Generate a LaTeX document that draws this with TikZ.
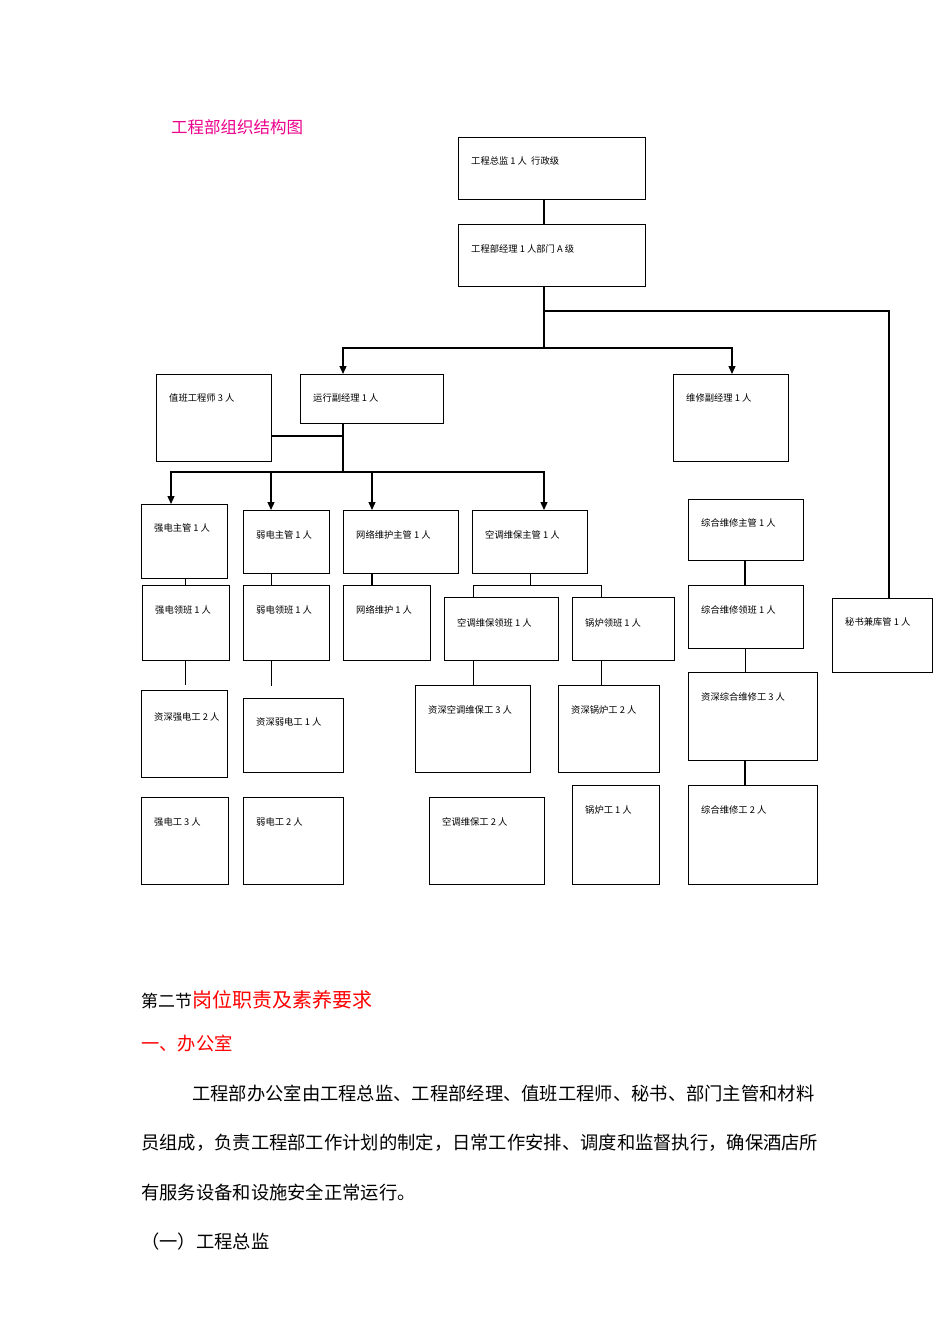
\documentclass[tikz,border=0pt]{standalone}
\usepackage{fontspec}
\setmainfont{Noto Sans CJK SC}
\usetikzlibrary{arrows.meta}
\tikzset{bx/.style={draw,line width=1.1pt,anchor=north west,inner sep=0pt},
 bt/.style={anchor=west,inner sep=0pt,font=\fontsize{9.3}{10}\selectfont},
 ln/.style={line width=1.3pt},
 ar/.style={ln,-{Triangle[length=8pt,width=7pt]}},
 body/.style={anchor=west,inner sep=0pt,font=\fontsize{18.3}{18}\selectfont}}
\newcommand\bx[8]{\node[bx,minimum width={(#4-#2)*1pt},minimum height={(#5-#3)*1pt}] (#1) at (#2,#3) {};
 \node[bt] (#1t) at (#2+13,#7) {#8};}
\begin{document}
\begin{tikzpicture}[x=1pt,y=-1pt]
\useasboundingbox[fill=white] (0,0) rectangle (950,1344);
\node[anchor=west,inner sep=0pt,text=magenta,font=\fontsize{16.5}{16}\selectfont] (title) at (171,127) {工程部组织结构图};
\bx{A}{458}{137}{645}{199}{}{161}{工程总监 1 人 \ 行政级}
\bx{B}{458}{224}{645}{286}{}{249}{工程部经理 1 人部门 A 级}
\bx{C}{156}{374}{271}{461}{}{398}{值班工程师 3 人}
\bx{D}{300}{374}{443}{423}{}{398}{运行副经理 1 人}
\bx{E}{673}{374}{788}{461}{}{398}{维修副经理 1 人}
\bx{F1}{141}{504}{227}{578}{}{528}{强电主管 1 人}
\bx{F2}{243}{510}{329}{573}{}{535}{弱电主管 1 人}
\bx{F3}{343}{510}{458}{573}{}{535}{网络维护主管 1 人}
\bx{F4}{472}{510}{587}{573}{}{535}{空调维保主管 1 人}
\bx{G}{688}{499}{803}{560}{}{523}{综合维修主管 1 人}
\bx{S}{832}{598}{932}{672}{}{622}{秘书兼库管 1 人}
\bx{H1}{142}{585}{229}{660}{}{610}{强电领班 1 人}
\bx{H2}{243}{585}{329}{660}{}{610}{弱电领班 1 人}
\bx{H3}{343}{585}{430}{660}{}{610}{网络维护 1 人}
\bx{H4}{444}{597}{558}{660}{}{623}{空调维保领班 1 人}
\bx{H5}{572}{597}{674}{660}{}{623}{锅炉领班 1 人}
\bx{H6}{688}{585}{803}{648}{}{610}{综合维修领班 1 人}
\bx{I1}{141}{690}{227}{777}{}{717}{资深强电工 2 人}
\bx{I2}{243}{698}{343}{772}{}{722}{资深弱电工 1 人}
\bx{I3}{415}{685}{530}{772}{}{710}{资深空调维保工 3 人}
\bx{I4}{558}{685}{659}{772}{}{710}{资深锅炉工 2 人}
\bx{I6}{688}{672}{817}{760}{}{697}{资深综合维修工 3 人}
\bx{J1}{141}{797}{228}{884}{}{822}{强电工 3 人}
\bx{J2}{243}{797}{343}{884}{}{822}{弱电工 2 人}
\bx{J3}{429}{797}{544}{884}{}{822}{空调维保工 2 人}
\bx{J4}{572}{785}{659}{884}{}{810}{锅炉工 1 人}
\bx{J6}{688}{785}{817}{884}{}{810}{综合维修工 2 人}
% connectors
\coordinate (b1) at (544,348); \coordinate (b2) at (544,311);
\coordinate (d1) at (343,436); \coordinate (d2) at (343,472);
\coordinate (f4) at (530,585);
\draw[ln] (A.south -| b1) -- (B.north -| b1);
\draw[ln] (B.south -| b1) -- (b1);
\draw[ar] (b1) -| (D.north -| d1);
\draw[ar] (b1) -| (E.north -| 732,0);
\draw[ln] (b2) -| (S.north -| 889,0);
\draw[ln] (D.south -| d1) -- (d2);
\draw[ln] (d1) -- (C.east |- d1);
\draw[ar] (d2) -| (F1.north -| 171,0);
\draw[ar] (d2) -| (F2.north -| 271,0);
\draw[ar] (d2) -| (F3.north -| 372,0);
\draw[ar] (d2) -| (F4.north -| 544,0);
\draw (F1.south -| 185,0) -- (H1.north -| 185,0);
\draw (F2.south -| 271,0) -- (H2.north -| 271,0);
\draw[ln] (F3.south -| 372,0) -- (H3.north -| 372,0);
\draw (F4.south -| f4) -- (f4);
\draw (f4) -| (H4.north -| 473,0);
\draw (f4) -| (H5.north -| 601,0);
\draw[ln] (G.south -| 745,0) -- (H6.north -| 745,0);
\draw (H1.south -| 185,0) -- (185,685);
\draw (H2.south -| 271,0) -- (271,686);
\draw (H4.south -| 473,0) -- (I3.north -| 473,0);
\draw (H5.south -| 601,0) -- (I4.north -| 601,0);
\draw (H6.south -| 745,0) -- (I6.north -| 745,0);
\draw[ln] (I6.south -| 745,0) -- (J6.north -| 745,0);
% text
\node[body] (s2) at (141,1000) {\fontsize{17}{17}\selectfont 第二节\textcolor{red}{\fontsize{20}{20}\selectfont 岗位职责及素养要求}};
\node[body,text=red] (s3) at (141,1043) {一、办公室};
\node[body] (p1) at (192,1093) {工程部办公室由工程总监、工程部经理、值班工程师、秘书、部门主管和材料};
\node[body] (p2) at (141,1143) {员组成，负责工程部工作计划的制定，日常工作安排、调度和监督执行，确保酒店所};
\node[body] (p3) at (141,1192) {有服务设备和设施安全正常运行。};
\node[body] (p4) at (141,1242) {（一）工程总监};
\end{tikzpicture}
\end{document}
